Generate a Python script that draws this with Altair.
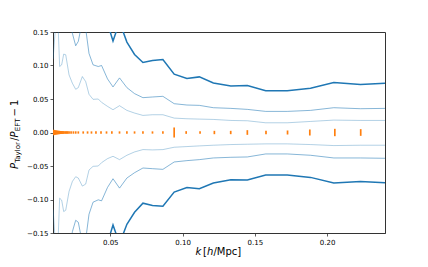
import altair as alt
import pandas as pd

# ---- data ----
k_curve = [0.0105, 0.0122, 0.0132, 0.0141, 0.0150, 0.0164, 0.0178, 0.0192, 0.0215, 0.0238,
           0.0261, 0.0279, 0.0307, 0.0330, 0.0353, 0.0381, 0.0417, 0.0440, 0.0481, 0.0519,
           0.0564, 0.0615, 0.0668, 0.0726, 0.0792, 0.0864, 0.0942, 0.1030, 0.1116, 0.1213,
           0.1334, 0.1448, 0.1575, 0.1724, 0.1885, 0.2046, 0.2230, 0.2400]

inner_up = [0.110, 0.160, 0.190, 0.150, 0.0985, 0.101, 0.117, 0.116, 0.086, 0.0735,
            0.0645, 0.067, 0.0835, 0.076, 0.057, 0.0495, 0.050, 0.045, 0.039, 0.034,
            0.040, 0.033, 0.029, 0.0255, 0.0265, 0.0265, 0.0215, 0.0205, 0.020, 0.0195,
            0.018, 0.0175, 0.0145, 0.0145, 0.0165, 0.0185, 0.018, 0.018]
inner_lo = [-0.115, -0.170, -0.200, -0.150, -0.098, -0.101, -0.118, -0.116, -0.088, -0.073,
            -0.066, -0.068, -0.080, -0.077, -0.056, -0.0505, -0.050, -0.045, -0.039, -0.0355,
            -0.0405, -0.034, -0.029, -0.0255, -0.026, -0.0255, -0.022, -0.021, -0.020, -0.019,
            -0.018, -0.0175, -0.017, -0.017, -0.018, -0.0195, -0.019, -0.019]

mid_up = [0.22, 0.32, 0.38, 0.30, 0.20, 0.20, 0.23, 0.23, 0.18, 0.148,
          0.1295, 0.136, 0.167, 0.155, 0.118, 0.101, 0.0985, 0.100, 0.080, 0.068,
          0.0815, 0.067, 0.058, 0.052, 0.053, 0.054, 0.043, 0.041, 0.0405, 0.037,
          0.036, 0.0345, 0.0315, 0.0315, 0.033, 0.037, 0.0355, 0.036]
mid_lo = [-0.23, -0.34, -0.40, -0.30, -0.20, -0.20, -0.24, -0.23, -0.18, -0.148,
          -0.131, -0.134, -0.165, -0.160, -0.122, -0.104, -0.1005, -0.102, -0.082, -0.069,
          -0.083, -0.068, -0.060, -0.053, -0.054, -0.055, -0.044, -0.042, -0.0405, -0.038,
          -0.037, -0.0365, -0.032, -0.032, -0.034, -0.038, -0.038, -0.0385]

outer_up = [0.44, 0.64, 0.76, 0.60, 0.39, 0.40, 0.47, 0.46, 0.35, 0.29,
            0.26, 0.27, 0.33, 0.30, 0.23, 0.20, 0.20, 0.18, 0.163, 0.1365,
            0.165, 0.135, 0.1165, 0.1045, 0.1075, 0.109, 0.087, 0.0805, 0.083, 0.074,
            0.0695, 0.070, 0.0625, 0.0625, 0.066, 0.0745, 0.0715, 0.0735]
outer_lo = [-0.46, -0.68, -0.80, -0.60, -0.39, -0.40, -0.47, -0.46, -0.35, -0.29,
            -0.26, -0.27, -0.32, -0.31, -0.24, -0.20, -0.20, -0.18, -0.165, -0.138,
            -0.166, -0.137, -0.119, -0.1055, -0.109, -0.110, -0.089, -0.082, -0.084, -0.0755,
            -0.0705, -0.071, -0.0635, -0.0635, -0.067, -0.0755, -0.073, -0.075]

k_pts = [0.0108, 0.0111, 0.0114, 0.0117, 0.0121, 0.0125, 0.0129, 0.0133, 0.0138, 0.0143,
         0.0148, 0.0154, 0.0160, 0.0166, 0.0173, 0.0180, 0.0188, 0.0196, 0.0205, 0.0215,
         0.0229, 0.0245, 0.0261, 0.0279, 0.0313, 0.0343, 0.0370, 0.0401, 0.0436, 0.0474,
         0.0511, 0.0564, 0.0615, 0.0668, 0.0726, 0.0792, 0.0864, 0.0942, 0.1025, 0.1121,
         0.1220, 0.1333, 0.1448, 0.1577, 0.1726, 0.1880, 0.2053, 0.2232]
err_pts = [0.004, 0.0035, 0.0035, 0.003, 0.003, 0.003, 0.0027, 0.0027, 0.0025, 0.0025,
           0.0025, 0.0022, 0.0022, 0.0022, 0.0022, 0.002, 0.002, 0.002, 0.002, 0.002,
           0.0018, 0.0018, 0.0018, 0.0017, 0.0017, 0.0017, 0.0017, 0.0017, 0.0017, 0.0017,
           0.0017, 0.0017, 0.0017, 0.0017, 0.0017, 0.0017, 0.0017, 0.0075, 0.002, 0.002,
           0.0025, 0.0025, 0.0035, 0.0025, 0.003, 0.0045, 0.0055, 0.005]

x_ticks = [0.05, 0.10, 0.15, 0.20]
y_ticks = [-0.15, -0.10, -0.05, 0.00, 0.05, 0.10, 0.15]

# ---- build tables ----
rows = []
for name, up, lo in [("inner", inner_up, inner_lo), ("mid", mid_up, mid_lo), ("outer", outer_up, outer_lo)]:
    for i, k in enumerate(k_curve):
        rows.append({"k": k, "v": up[i], "series": name + "_up", "order": i})
        rows.append({"k": k, "v": lo[i], "series": name + "_lo", "order": i})
curves = pd.DataFrame(rows)
pts = pd.DataFrame({"k": k_pts, "lo": [-e for e in err_pts], "hi": err_pts})

xs = alt.Scale(domain=[0.0104, 0.2400], nice=False, zero=False)
ys = alt.Scale(domain=[-0.15, 0.15], nice=False, zero=False)
xax = alt.Axis(values=x_ticks, format=".2f", title=None)
yax = alt.Axis(values=y_ticks, format=".2f", title=None)

styles = {
    "inner": dict(color="#1f77b4", opacity=0.38, strokeWidth=0.9),
    "mid": dict(color="#1f77b4", opacity=0.6, strokeWidth=0.9),
    "outer": dict(color="#1f77b4", opacity=1.0, strokeWidth=1.5),
}

layers = []
for name in ["inner", "mid", "outer"]:
    for side in ["_up", "_lo"]:
        sub = curves[curves.series == name + side]
        layers.append(
            alt.Chart(sub).mark_line(clip=True, **styles[name]).encode(
                x=alt.X("k:Q", scale=xs, axis=xax),
                y=alt.Y("v:Q", scale=ys, axis=yax),
                order="order:Q",
            )
        )

bars = alt.Chart(pts).mark_rule(color="#ff7f0e", strokeWidth=1.7, clip=True).encode(
    x=alt.X("k:Q", scale=xs, axis=xax),
    y=alt.Y("lo:Q", scale=ys, axis=yax),
    y2="hi:Q",
)
layers.append(bars)

one = pd.DataFrame({"a": [0]})


def txt(s, x, y, size, italic=False, angle=0):
    kw = dict(align="left", baseline="alphabetic", font="DejaVu Sans", fontSize=size, color="#000")
    if italic:
        kw["fontStyle"] = "italic"
    if angle:
        kw["angle"] = angle
    return alt.Chart(one).mark_text(**kw).encode(
        x=alt.value(x), y=alt.value(y), text=alt.value(s)
    )


# x-axis title: k [h/Mpc]
xt_y = 223
x0 = 142.5
layers += [
    txt("k", x0, xt_y, 10, italic=True),
    txt("[", x0 + 7.6, xt_y, 10),
    txt("h", x0 + 11.5, xt_y, 10, italic=True),
    txt("/Mpc]", x0 + 17.9, xt_y, 10),
]

# y-axis title: P_Taylor/P_EFT - 1 (rotated)
bx = -35
g = 137
layers += [
    txt("P", bx, g, 10, italic=True, angle=270),
    txt("Taylor", bx + 2, g - 6.2, 7, angle=270),
    txt("/", bx, g - 28.2, 10, angle=270),
    txt("P", bx, g - 31.6, 10, italic=True, angle=270),
    txt("EFT", bx + 2, g - 37.8, 7, angle=270),
    txt("−", bx, g - 52.5, 10, angle=270),
    txt("1", bx, g - 63.0, 10, angle=270),
]

chart = alt.layer(*layers).properties(
    width=332, height=201,
    autosize=alt.AutoSizeParams(type="none"),
    padding={"left": 45, "top": 24, "right": 35, "bottom": 26},
).configure_view(
    stroke="#333", strokeWidth=1
).configure_axis(
    grid=False,
    labelFont="DejaVu Sans", labelFontSize=7, labelColor="#000",
    tickColor="#333", tickSize=3, tickWidth=0.8,
    domainColor="#333", domainWidth=1, labelPadding=2,
)

chart.save("out.html", embed_options={"renderer": "svg", "actions": False})
